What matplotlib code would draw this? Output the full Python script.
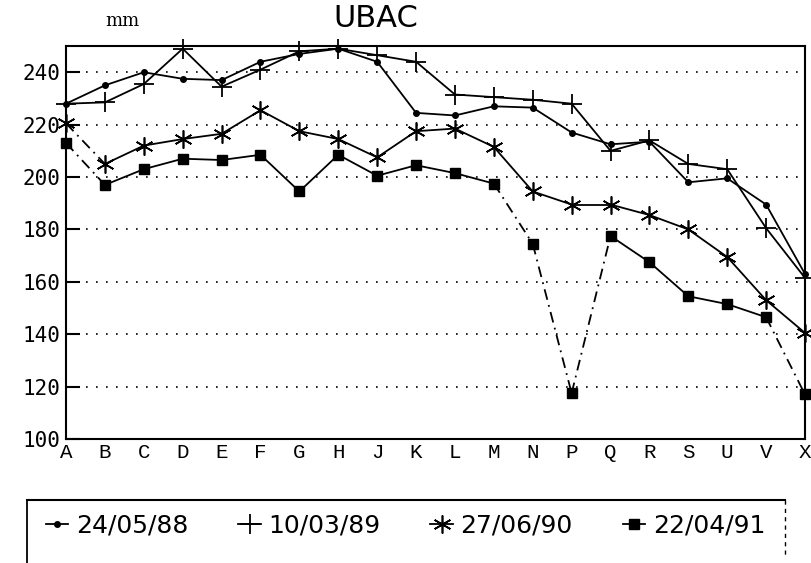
import matplotlib.pyplot as plt
from matplotlib.lines import Line2D

sites = ["A", "B", "C", "D", "E", "F", "G", "H", "J", "K",
         "L", "M", "N", "P", "Q", "R", "S", "U", "V", "X"]

s_880524 = [228, 235, 240, 237.5, 237, 244, 247, 249, 244, 224.5,
            223.5, 227, 226.5, 217, 212.5, 213.5, 198, 199.5, 189.5, 163]
s_890310 = [228, 228.5, 235.5, 249, 234.5, 241, 248, 249, 246.5, 244,
            231.5, 230.5, 229.5, 228, 210, 214, 205, 203, 180.5, 161.5]
s_900627 = [220.5, 205, 212, 214.5, 216.5, 225.5, 217.5, 214.5, 207.5, 217.5,
            218.5, 211.5, 194.5, 189.5, 189.5, 185.5, 180, 169.5, 153, 140.5]
s_910422 = [213, 197, 203, 207, 206.5, 208.5, 194.5, 208.5, 200.5, 204.5,
            201.5, 197.5, 174.5, 117.5, 177.5, 167.5, 154.5, 151.5, 146.5, 117]

labels = ["24/05/88", "10/03/89", "27/06/90", "22/04/91"]
yticks = [100, 120, 140, 160, 180, 200, 220, 240]

# segment indices drawn dash-dot in the original plot
dashed = {
    "24/05/88": [],
    "10/03/89": [],
    "27/06/90": [0],
    "22/04/91": [0, 11, 12, 13, 18],
}

styles = {
    "24/05/88": dict(marker="o", ms=4),
    "10/03/89": dict(marker="+", ms=14, mew=1.3),
    "27/06/90": dict(marker=(6, 2, 0), ms=13, mew=1.2),
    "22/04/91": dict(marker="s", ms=7),
}

fig = plt.figure(figsize=(8.11, 5.63), dpi=100)
ax = fig.add_axes([0.0814, 0.2202, 0.9112, 0.698])

x = list(range(len(sites)))
for lab, vals in zip(labels, [s_880524, s_890310, s_900627, s_910422]):
    for i in range(len(x) - 1):
        ls = (0, (6, 3, 1, 3)) if i in dashed[lab] else "-"
        ax.plot(x[i:i + 2], vals[i:i + 2], color="black", lw=1.3, ls=ls,
                clip_on=False, zorder=3)
    ax.plot(x, vals, color="black", lw=0, clip_on=False, zorder=4,
            **styles[lab])

ax.set_xlim(0, len(sites) - 1)
ax.set_ylim(100, 250)
ax.set_yticks(yticks)
ax.set_yticklabels([str(v) for v in yticks], fontsize=15,
                   family="DejaVu Sans Mono")
ax.set_xticks(x)
ax.set_xticklabels(sites, fontsize=15, family="Liberation Mono")
ax.tick_params(axis="y", direction="in", length=10, width=1.5, pad=4)
ax.tick_params(axis="x", length=0, pad=3)

for v in yticks[1:]:
    ax.axhline(v, color="black", lw=1.2, ls=(0, (1, 5)), zorder=1)

for sp in ax.spines.values():
    sp.set_linewidth(1.5)

fig.text(0.463, 0.993, "UBAC", fontsize=22, ha="center", va="top",
         family="DejaVu Sans")
fig.text(0.13, 0.962, "mm", fontsize=13, ha="left", va="center",
         family="DejaVu Serif")

# open legend box: top and left edges solid, right edge dashed
fig.add_artist(Line2D([0.033, 0.968], [0.112, 0.112], color="black", lw=1.5))
fig.add_artist(Line2D([0.033, 0.033], [0.112, 0.0], color="black", lw=1.3))
fig.add_artist(Line2D([0.968, 0.968], [0.112, 0.01], color="black", lw=1.0,
                      ls=(0, (3, 3))))

handles = [Line2D([], [], color="black", lw=1.3, **styles[lab]) for lab in labels]
leg = fig.legend(handles, labels, ncol=4, loc="center",
                 bbox_to_anchor=(0.5, 0.067), frameon=False,
                 handlelength=0.9, handletextpad=0.3, columnspacing=2.0,
                 prop={"family": "DejaVu Sans", "size": 18})

fig.savefig("out.png", dpi=100)
